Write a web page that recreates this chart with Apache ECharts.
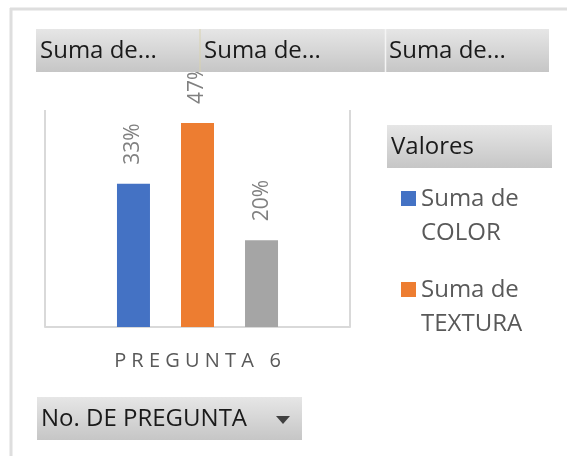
<!DOCTYPE html>
<html>
<head>
<meta charset="utf-8">
<script src="https://cdn.jsdelivr.net/npm/echarts@6/dist/echarts.min.js"></script>
<style>
html,body{margin:0;padding:0;background:#fff;}
#c{width:567px;height:456px;}
</style>
</head>
<body>
<div id="c"></div>
<script>
var categories = ['PREGUNTA 6'];
var seriesNames = ['Suma de\nCOLOR', 'Suma de\nTEXTURA', 'Suma de\n...'];
var colorValues = [0.33];
var texturaValues = [0.47];
var thirdValues = [0.20];
var fieldButtons = ['Suma de...', 'Suma de...', 'Suma de...'];
var legendTitle = 'Valores';
var axisButton = 'No. DE PREGUNTA';

var FONT = '"Open Sans", "Noto Sans", sans-serif';
var btnFill = new echarts.graphic.LinearGradient(0, 0, 0, 1, [
  {offset: 0, color: '#e6e6e6'}, {offset: 1, color: '#c6c6c6'}
]);

function button(x, y, w, h, label, fs) {
  return {
    type: 'group', z: 100,
    children: [
      {type: 'rect', shape: {x: x, y: y, width: w, height: h}, style: {fill: btnFill}, z: 100},
      {type: 'text', x: x + 4, y: y + h / 2 + 1, z: 101,
       style: {text: label, fill: '#1a1a1a', font: (fs || 24) + 'px ' + FONT, verticalAlign: 'middle'}}
    ]
  };
}

var labelCfg = {
  show: true, position: 'top', rotate: 90, distance: 19,
  align: 'left', verticalAlign: 'middle',
  color: '#808080', fontSize: 21, fontFamily: FONT,
  formatter: function (p) { return Math.round(p.value * 100) + '%'; }
};

var legendIcon = 'path://M0,0L0.01,0M0,9L15,9L15,24L0,24ZM0,68L0.01,68';

var option = {
  backgroundColor: '#fff',
  animation: false,
  grid: {left: 45, right: 217, top: 110, bottom: 129},
  xAxis: {
    type: 'category', data: categories,
    axisLine: {show: true, lineStyle: {color: '#d9d9d9', width: 2}},
    axisTick: {show: false},
    splitLine: {show: true, lineStyle: {color: '#d9d9d9', width: 2}},
    axisLabel: {
      margin: 24, color: '#595959', fontSize: 20, fontFamily: FONT,
      formatter: function (v) { return v.split('').join(' '); }
    }
  },
  yAxis: {type: 'value', min: 0, max: 0.5, show: false, splitLine: {show: false}},
  legend: {
    data: [seriesNames[0], seriesNames[1]],
    orient: 'vertical', left: 396, top: 177,
    itemWidth: 15, itemHeight: 68, itemGap: 23,
    icon: legendIcon,
    textStyle: {color: '#595959', fontSize: 24, lineHeight: 34, fontFamily: FONT}
  },
  series: [
    {name: seriesNames[0], type: 'bar', data: colorValues, barWidth: 33, barGap: '94%',
     itemStyle: {color: '#4472c4'}, label: labelCfg},
    {name: seriesNames[1], type: 'bar', data: texturaValues, barWidth: 33, barGap: '94%',
     itemStyle: {color: '#ed7d31'}, label: labelCfg},
    {name: seriesNames[2], type: 'bar', data: thirdValues, barWidth: 33, barGap: '94%',
     itemStyle: {color: '#a5a5a5'}, label: labelCfg}
  ],
  graphic: [
    {type: 'line', z: 100, shape: {x1: 10, y1: 9, x2: 567, y2: 9}, style: {stroke: '#dedede', lineWidth: 3}},
    {type: 'line', z: 100, shape: {x1: 11, y1: 8, x2: 11, y2: 456}, style: {stroke: '#dedede', lineWidth: 3}},
    button(36, 29, 164, 43, fieldButtons[0], 24),
    button(200, 29, 185, 43, fieldButtons[1], 24),
    button(385, 29, 164, 43, fieldButtons[2], 24),
    {type: 'line', z: 102, shape: {x1: 200, y1: 29, x2: 200, y2: 72}, style: {stroke: '#d8d2b0', lineWidth: 1}},
    {type: 'line', z: 102, shape: {x1: 385.5, y1: 29, x2: 385.5, y2: 72}, style: {stroke: '#f4f4f4', lineWidth: 1.5}},
    button(387, 125, 165, 43, legendTitle, 24),
    button(37, 397, 265, 43, axisButton, 24),
    {type: 'polygon', z: 102, shape: {points: [[276, 416], [290, 416], [283, 424]]}, style: {fill: '#404040'}}
  ]
};

var chart = echarts.init(document.getElementById('c'), null, {renderer: 'canvas'});
chart.setOption(option);
</script>
</body>
</html>
